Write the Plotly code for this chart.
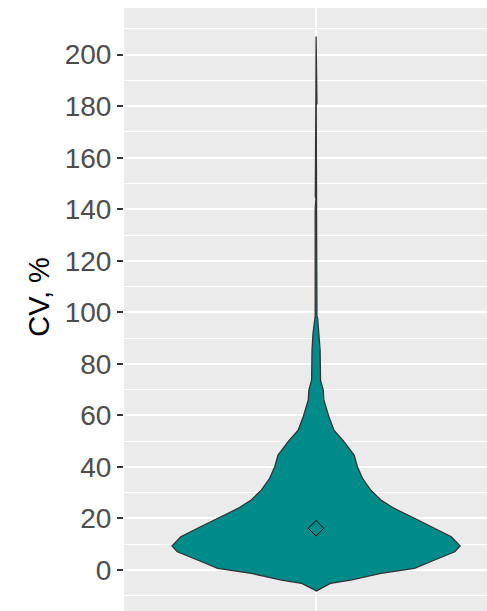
import plotly.graph_objects as go

# Violin density profile: CV level (%) and half-width (relative, 1 = widest)
cv_levels = [-8.2, -7.8, -5.2, -3.9, -1.3, 0.66, 3.9, 7.1, 9.3, 12.9, 16.2, 20.1, 23.9, 27.2,
             31.0, 35.6, 40.1, 44.6, 49.8, 54.3, 59.5, 66.0, 69.8, 73.7, 85.4, 92.0,
             97.7, 98.5, 140.0, 144.0, 145.0, 157.0, 158.0, 180.5, 181.0, 185.0, 185.5, 207.0]
density_rel = [0.0, 0.007, 0.100, 0.240, 0.450, 0.683, 0.823, 0.963, 1.0, 0.939, 0.823, 0.683,
               0.543, 0.450, 0.380, 0.322, 0.287, 0.264, 0.194, 0.124, 0.089, 0.054, 0.050,
               0.031, 0.028, 0.021, 0.011, 0.006, 0.006, 0.001, 0.005, 0.005, 0.001,
               0.001, 0.006, 0.006, 0.001, 0.0]
mean_cv = 16.2
group = 1
max_half_width = 0.45

y_ticks = [0, 20, 40, 60, 80, 100, 120, 140, 160, 180, 200]
y_minor = [-10, 10, 30, 50, 70, 90, 110, 130, 150, 170, 190, 210]

xs = [group - max_half_width * d for d in density_rel] + \
     [group + max_half_width * d for d in reversed(density_rel)]
ys = cv_levels + list(reversed(cv_levels))

fig = go.Figure()
fig.add_trace(go.Scatter(
    x=xs, y=ys, mode="lines", fill="toself",
    fillcolor="#008B8B", line=dict(color="#333333", width=1.3),
    hoverinfo="skip", showlegend=False))
fig.add_trace(go.Scatter(
    x=[group], y=[mean_cv], mode="markers",
    marker=dict(symbol="diamond-open", size=12, color="black", line=dict(width=1, color="black")),
    showlegend=False))

fig.update_layout(
    width=487, height=611,
    margin=dict(l=124, r=0, t=8, b=0),
    paper_bgcolor="white", plot_bgcolor="#EBEBEB",
    font=dict(family="Liberation Sans, Arial, sans-serif"),
    xaxis=dict(range=[0.4, 1.534], tickvals=[group], showticklabels=False, ticks="",
               showgrid=True, gridcolor="white", gridwidth=2, zeroline=False, showline=False),
    yaxis=dict(range=[-15.9, 218.1], tickvals=y_ticks, ticks="outside", ticklen=6,
               tickwidth=1.5, tickcolor="#333333",
               tickfont=dict(size=28, color="#4D4D4D"),
               showgrid=True, gridcolor="white", gridwidth=2, zeroline=False, showline=False,
               minor=dict(tickvals=y_minor, showgrid=True, gridcolor="white", gridwidth=1.2, ticks="")),
    annotations=[dict(text="CV, %", textangle=-90, xref="paper", yref="paper",
                      x=-0.235, y=0.5207, xanchor="center", yanchor="middle",
                      showarrow=False, font=dict(size=29, color="black"))],
)

fig.write_html("out.html", config={"displayModeBar": False},
               post_script="document.body.style.margin='0';document.body.style.overflow='hidden';")
